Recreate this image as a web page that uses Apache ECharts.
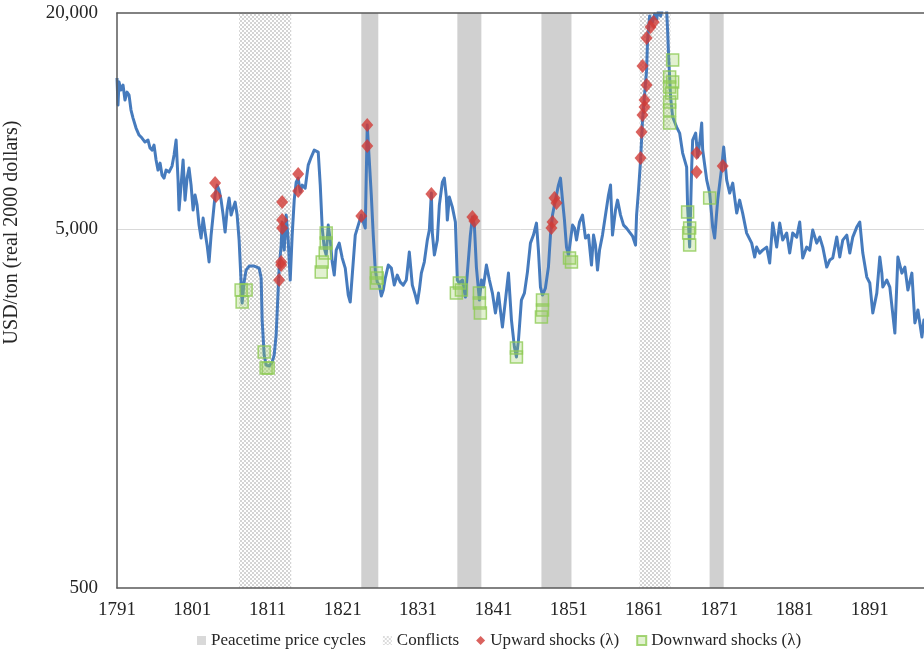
<!DOCTYPE html>
<html>
<head>
<meta charset="utf-8">
<script src="https://cdn.jsdelivr.net/npm/echarts@6/dist/echarts.min.js"></script>
<style>
  html, body { margin: 0; padding: 0; background: #fff; }
  #chart { width: 924px; height: 656px; }
</style>
</head>
<body>
<div id="chart"></div>
<script>
// Real sugar price, USD/ton (2000 dollars), [year, value]
const tonPrice = [
  [1791.00,13180],[1791.13,11080],[1791.27,12840],[1791.53,12200],[1791.80,12600],[1792.06,11440],[1792.33,12040],[1792.60,11810],
  [1792.86,10730],[1793.13,10190],[1793.53,9560],[1793.93,9140],[1794.32,8965],[1794.72,8740],[1795.12,8850],[1795.39,8410],
  [1795.65,8300],[1795.92,8570],[1796.19,7785],[1796.45,7300],[1796.72,7636],[1796.98,7070],[1797.25,6935],[1797.52,7300],
  [1797.91,7208],[1798.31,7490],[1798.58,8040],[1798.85,8850],[1799.11,6850],[1799.24,5650],[1799.51,6630],[1799.78,7785],
  [1800.04,6020],[1800.31,6935],[1800.57,7395],[1800.84,6630],[1801.11,5650],[1801.37,6220],[1801.64,5830],[1801.90,5130],
  [1802.17,4720],[1802.44,5365],[1802.70,4905],[1802.97,4510],[1803.23,4050],[1803.50,4810],[1803.77,5470],[1804.03,6220],
  [1804.30,6630],[1804.56,6420],[1804.83,6020],[1805.10,5470],[1805.36,4905],[1805.63,5650],[1805.89,6100],[1806.16,5470],
  [1806.43,5720],[1806.69,5945],[1806.96,5470],[1807.22,4660],[1807.49,3537],[1807.62,3111],[1807.89,3559],[1808.15,3843],
  [1808.55,3944],[1809.22,3944],[1809.88,3893],[1810.15,3651],[1810.28,2789],[1810.55,2229],[1810.81,2090],[1811.21,2076],
  [1811.61,2130],[1811.88,2229],[1812.14,2534],[1812.41,3381],[1812.54,3893],[1812.81,4512],[1812.94,5230],[1813.21,4370],
  [1813.34,4904],[1813.47,5470],[1813.74,4659],[1814.01,3605],[1814.27,4811],[1814.54,6022],[1814.80,6760],[1815.07,6935],
  [1815.34,6340],[1815.60,6631],[1816.00,6505],[1816.40,7538],[1816.80,7936],[1817.20,8301],[1817.46,8408],[1817.73,8194],
  [1818.00,6631],[1818.26,5032],[1818.53,4426],[1818.79,4232],[1819.06,5130],[1819.33,4659],[1819.59,4047],[1819.86,3722],
  [1820.12,4370],[1820.52,4570],[1820.92,4152],[1821.32,3893],[1821.72,3274],[1821.98,3131],[1822.25,3722],[1822.65,4811],
  [1823.05,5130],[1823.45,5470],[1823.71,5230],[1823.98,5032],[1824.24,9745],[1824.51,7785],[1824.78,6219],[1825.04,4811],
  [1825.31,3843],[1825.57,3559],[1825.84,3491],[1826.11,3253],[1826.37,3381],[1826.64,3651],[1827.04,3969],[1827.44,3893],
  [1827.83,3491],[1828.23,3722],[1828.63,3559],[1829.03,3491],[1829.43,3605],[1829.83,4314],[1830.23,3491],[1830.63,3274],
  [1830.89,3111],[1831.16,3381],[1831.43,3770],[1831.82,4047],[1832.22,4659],[1832.49,4968],[1832.76,6299],[1832.89,4873],
  [1833.16,4232],[1833.55,4659],[1833.82,5832],[1834.22,6760],[1834.48,6935],[1834.75,6139],[1834.88,5297],[1835.15,6139],
  [1835.55,5758],[1835.95,5230],[1836.21,3605],[1836.48,3537],[1836.88,3605],[1837.28,3232],[1837.54,3770],[1837.94,4811],
  [1838.21,5400],[1838.47,5130],[1838.74,3918],[1839.14,3171],[1839.41,3605],[1839.67,3447],[1840.07,3969],[1840.47,3605],
  [1840.87,3316],[1841.27,2918],[1841.67,3316],[1841.93,2974],[1842.20,2667],[1842.60,3171],[1843.00,3770],[1843.40,2789],
  [1843.79,2346],[1844.06,2200],[1844.33,2453],[1844.72,3171],[1845.12,3316],[1845.52,3794],[1845.92,4570],[1846.32,4811],
  [1846.72,5196],[1846.98,4370],[1847.25,3447],[1847.52,3274],[1847.91,3425],[1848.31,3918],[1848.58,4811],[1848.85,5470],
  [1849.24,6022],[1849.64,6631],[1849.91,6935],[1850.18,6022],[1850.44,5297],[1850.71,4455],[1850.97,4232],[1851.24,4659],
  [1851.51,5130],[1851.77,5032],[1852.04,4659],[1852.44,5230],[1852.84,5470],[1853.23,4719],[1853.63,4811],[1854.03,3969],
  [1854.30,4811],[1854.56,4512],[1854.83,3843],[1855.10,4370],[1855.49,4811],[1855.89,5470],[1856.29,6219],[1856.56,6631],
  [1856.82,4811],[1857.22,5649],[1857.49,6022],[1857.89,5470],[1858.29,5130],[1858.68,5032],[1859.08,4904],[1859.48,4780],
  [1859.88,4512],[1860.02,5470],[1860.28,6422],[1860.55,7785],[1860.81,10063],[1861.08,11814],[1861.35,13869],[1861.48,16812],
  [1861.75,19611],[1862.14,18870],[1862.41,19864],[1862.68,19237],[1862.94,20380],[1863.21,19611],[1863.48,20644],[1863.74,21046],
  [1864.01,20380],[1864.14,17926],[1864.28,15075],[1864.54,11663],[1864.81,10259],[1865.34,9621],[1865.74,9257],[1866.14,8142],
  [1866.67,7443],[1866.80,5758],[1867.07,4455],[1867.34,7443],[1867.47,8851],[1867.87,9257],[1868.14,7936],[1868.40,8683],
  [1868.67,9871],[1868.80,8301],[1869.34,6847],[1869.73,6299],[1870.13,5065],[1870.39,4719],[1870.79,6022],[1871.33,7443],
  [1871.59,8462],[1871.99,6847],[1872.39,6299],[1872.79,6717],[1873.32,5540],[1873.71,6022],[1874.11,5540],[1874.64,4873],
  [1875.31,4570],[1875.71,4178],[1875.97,4455],[1876.37,4286],[1876.77,4370],[1877.30,4455],[1877.70,4021],[1878.10,5196],
  [1878.63,4455],[1879.03,5196],[1879.43,4659],[1879.96,4873],[1880.36,4286],[1880.76,4873],[1881.29,4750],[1881.69,5230],
  [1882.09,4152],[1882.62,4455],[1883.02,4370],[1883.42,4968],[1883.95,4570],[1884.35,4750],[1884.75,4455],[1885.28,3918],
  [1885.68,4099],[1886.08,4152],[1886.61,4750],[1887.01,4178],[1887.41,4659],[1887.94,4811],[1888.34,4286],[1888.74,4750],
  [1889.27,5065],[1889.67,5230],[1890.07,4286],[1890.60,3675],[1891.00,3537],[1891.40,2918],[1891.93,3316],[1892.33,4178],
  [1892.60,3770],[1892.73,3447],[1893.26,3605],[1893.66,3447],[1894.33,2566],[1894.73,4178],[1895.26,3770],[1895.66,3918],
  [1896.06,3381],[1896.59,3770],[1896.99,2737],[1897.39,2974],[1897.92,2501],[1898.18,2789],[1898.45,2534]
];

// Upward price shocks (λ), [year, value]
const upwardShocks = [
  [1804.03,6717],[1804.16,6180],
  [1812.54,3605],[1812.81,4047],[1812.81,3969],[1812.94,5032],[1812.94,5297],[1812.94,5946],
  [1815.07,7116],[1815.07,6381],
  [1823.45,5435],[1824.24,9745],[1824.24,8517],
  [1832.76,6259],
  [1838.21,5400],[1838.47,5263],
  [1849.11,6100],[1849.38,5908],[1848.85,5230],[1848.71,5032],
  [1860.55,7885],[1860.68,9317],[1860.81,10391],[1861.08,10938],[1861.08,11440],[1861.35,12597],
  [1860.81,14230],[1861.35,17029],[1861.88,18274],[1862.28,18870],
  [1868.00,8142],[1868.00,7208],
  [1871.46,7490]
];

// Downward price shocks (λ), [year, value]
const downwardShocks = [
  [1807.49,3381],[1807.62,3131],[1808.15,3381],
  [1810.55,2272],[1810.81,2050],[1811.08,2050],
  [1818.79,4873],[1818.79,4570],[1818.66,4286],[1818.26,4047],[1818.13,3794],
  [1825.44,3770],[1825.44,3537],[1825.57,3651],
  [1836.48,3537],[1836.75,3381],[1836.08,3316],
  [1839.14,3316],[1839.14,3111],[1839.27,2918],
  [1844.06,2331],[1844.06,2200],
  [1847.52,3171],[1847.52,2974],[1847.38,2843],
  [1851.11,4152],[1851.37,4047],
  [1864.81,14788],[1864.41,13260],[1864.81,12842],[1864.41,12435],[1864.68,11967],[1864.41,11295],[1864.41,10730],[1864.41,9871],
  [1866.80,5576],[1867.07,5032],[1866.94,4873],[1867.07,4512],
  [1869.73,6100]
];

// Shaded periods, [start year, end year]
const peacetimeCycles = [[1823.45,1825.71],[1836.21,1839.40],[1847.38,1851.37],[1869.72,1871.59]];
const conflictPeriods = [[1807.22,1814.14],[1860.41,1864.53]];

// Value-axis labels
const yTickValues = [500, 5000, 20000];

const START_YEAR = 1791;
const END_OFFSET = 107.2;
const FONT = '"Liberation Serif", "Times New Roman", serif';
const TEXT = '#262626';

function checkerPattern() {
  const c = document.createElement('canvas');
  c.width = 4; c.height = 4;
  const g = c.getContext('2d');
  g.fillStyle = '#ffffff'; g.fillRect(0, 0, 4, 4);
  g.fillStyle = '#d4d4d4';
  g.fillRect(0, 0, 2, 2); g.fillRect(2, 2, 2, 2);
  return c;
}
const conflictFill = { image: checkerPattern(), repeat: 'repeat' };
const toAxis = ([y, v]) => [y - START_YEAR, v];
const spans = list => list.map(([a, b]) => [{ xAxis: a - START_YEAR }, { xAxis: b - START_YEAR }]);

const chart = echarts.init(document.getElementById('chart'), null, { renderer: 'canvas' });
chart.setOption({
  animation: false,
  backgroundColor: '#ffffff',
  grid: { left: 117, right: 0, top: 13, bottom: 68, containLabel: false, outerBoundsMode: 'none' },
  legend: {
    left: 192, top: 627, itemGap: 17, itemWidth: 9, itemHeight: 9, selectedMode: false,
    textStyle: { fontFamily: FONT, fontSize: 17, color: TEXT },
    data: [
      { name: 'Peacetime price cycles', icon: 'rect' },
      { name: 'Conflicts', icon: 'rect' },
      { name: 'Upward shocks (λ)', icon: 'diamond' },
      { name: 'Downward shocks (λ)', icon: 'rect' }
    ]
  },
  xAxis: [
    {
      type: 'value', min: 0, max: END_OFFSET, interval: 10, z: 10,
      axisLine: { onZero: false, lineStyle: { color: '#595959', width: 1.5 } },
      axisTick: { show: false }, splitLine: { show: false },
      axisLabel: {
        formatter: v => String(Math.round(START_YEAR + v)), showMaxLabel: false,
        fontFamily: FONT, fontSize: 19, color: TEXT, margin: 13
      }
    },
    {
      type: 'value', position: 'top', min: 0, max: END_OFFSET, interval: 10, z: 10,
      axisLine: { show: true, onZero: false, lineStyle: { color: '#595959', width: 1.5 } },
      axisTick: { show: false }, axisLabel: { show: false }, splitLine: { show: false }
    }
  ],
  yAxis: {
    type: 'log', logBase: 10, min: 500, max: 20000, z: 10,
    axisLine: { show: true, lineStyle: { color: '#595959', width: 1.5 } },
    axisTick: { show: false }, axisLabel: { show: false }, splitLine: { show: false },
    name: 'USD/ton (real 2000 dollars)', nameLocation: 'middle', nameGap: 95,
    nameTextStyle: { fontFamily: FONT, fontSize: 20, color: TEXT, padding: [0, 0, 0, 136] }
  },
  series: [
    {
      name: 'value grid', type: 'scatter', data: [], z: 0,
      markLine: {
        silent: true, symbol: 'none', z: 0, animation: false,
        label: {
          show: true, position: 'start', distance: 19,
          formatter: p => Number(p.value).toLocaleString('en-US'),
          fontFamily: FONT, fontSize: 19, color: TEXT
        },
        data: yTickValues.map(v => ({
          yAxis: v,
          lineStyle: v === 5000 ? { color: '#d9d9d9', width: 1, type: 'solid' } : { color: 'transparent', width: 0 }
        }))
      }
    },
    {
      name: 'Peacetime price cycles', type: 'scatter', data: [], z: 1,
      itemStyle: { color: '#d0d0d0' },
      markArea: { silent: true, itemStyle: { color: '#d0d0d0' }, data: spans(peacetimeCycles) }
    },
    {
      name: 'Conflicts', type: 'scatter', data: [], z: 1,
      itemStyle: { color: conflictFill },
      markArea: { silent: true, itemStyle: { color: conflictFill }, data: spans(conflictPeriods) }
    },
    {
      name: 'price', type: 'line', data: tonPrice.map(toAxis), z: 3, clip: true,
      showSymbol: false, symbol: 'none',
      lineStyle: { color: '#467bbd', width: 3, join: 'round' },
      itemStyle: { color: '#467bbd' }
    },
    {
      name: 'Upward shocks (λ)', type: 'scatter', data: upwardShocks.map(toAxis), z: 4,
      symbol: 'diamond', symbolSize: [12, 14],
      itemStyle: { color: '#d13b36' }
    },
    {
      name: 'Downward shocks (λ)', type: 'scatter', data: downwardShocks.map(toAxis), z: 5,
      symbol: 'rect', symbolSize: 12,
      itemStyle: { color: 'rgba(150,206,90,0.35)', borderColor: '#8fcb55', borderWidth: 1.5 }
    }
  ]
});
</script>
</body>
</html>
